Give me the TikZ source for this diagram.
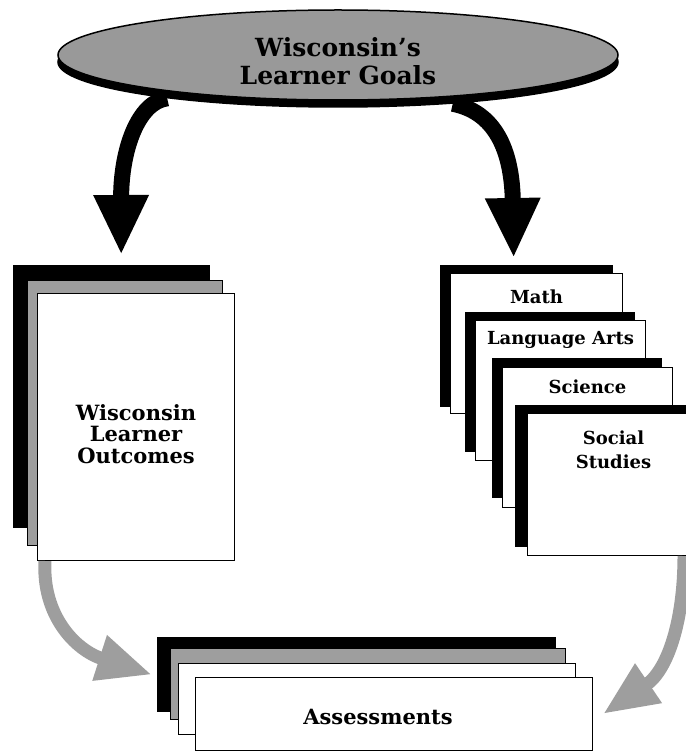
\documentclass[tikz,border=0pt]{standalone}
\usepackage{fontspec}
\setmainfont{DejaVu Serif}
\usetikzlibrary{positioning,shapes.geometric,arrows.meta}
\tikzset{
  goal/.style={draw, ellipse, line width=1.5pt, fill=black!40, minimum width=560pt, minimum height=90pt, inner sep=0pt},
  sheet/.style={draw, fill=white, line width=1pt, anchor=north west, inner sep=0pt},
  grain/.style={draw, fill=black!38, line width=0.8pt, anchor=north west, inner sep=0pt},
  blk/.style={fill=black, anchor=north west, inner sep=0pt},
  title/.style={font=\bfseries\fontsize{25}{28}\selectfont, align=center, inner sep=0pt},
  lbl/.style={font=\bfseries\fontsize{18}{24}\selectfont, align=center, inner sep=0pt},
  big/.style={line width=16pt, -{Triangle[width=51pt,length=60pt]}},
  flow/.style={line width=13pt, draw=black!38, -{Triangle[width=44pt,length=55pt]}}
}
\begin{document}
\begin{tikzpicture}[x=1pt,y=-1pt]
  \useasboundingbox (0,0) rectangle (685,751);
  % outcomes stack
  \node[blk, minimum width=197pt, minimum height=263pt] (lo3) at (13,265) {};
  \node[grain, minimum width=195pt, minimum height=265pt] (lo2) at (27,280) {};
  \node[sheet, minimum width=197pt, minimum height=267pt] (lo1) at (37,293) {};
  \node[lbl, font=\bfseries\fontsize{21}{21.5}\selectfont] (lot) at ([yshift=-7pt]lo1.center) {Wisconsin\\Learner\\Outcomes};
  % subject sheets
  \node[blk, minimum width=173pt, minimum height=142pt] (ms) at (440,265) {};
  \node[sheet, minimum width=172pt, minimum height=140pt] (m) at (450,273) {};
  \node[lbl, anchor=base] (mt) at ([yshift=-30pt]m.north) {Math};
  \node[blk, minimum width=170pt, minimum height=140pt] (las) at (465,312) {};
  \node[sheet, minimum width=170pt, minimum height=140pt] (la) at (475,320) {};
  \node[lbl, anchor=base] (lat) at ([yshift=-24pt]la.north) {Language Arts};
  \node[blk, minimum width=170pt, minimum height=140pt] (scs) at (492,358) {};
  \node[sheet, minimum width=170pt, minimum height=140pt] (sc) at (502,367) {};
  \node[lbl, anchor=base] (sct) at ([yshift=-26pt]sc.north) {Science};
  \node[blk, minimum width=172pt, minimum height=142pt] (sss) at (515,405) {};
  \node[sheet, minimum width=172pt, minimum height=142pt] (ss) at (527,413) {};
  \node[lbl, anchor=north] (sst) at ([yshift=-18pt]ss.north) {Social\\Studies};
  % assessment stack
  \node[blk, minimum width=399pt, minimum height=75pt] (a3) at (157,637) {};
  \node[grain, minimum width=395pt, minimum height=71pt] (a2) at (170,648) {};
  \node[sheet, minimum width=397pt, minimum height=71pt] (a1) at (178,663) {};
  \node[sheet, minimum width=397pt, minimum height=73pt] (a0) at (195,677) {};
  \node[lbl, font=\bfseries\fontsize{21}{24}\selectfont] (at) at ([xshift=-16pt,yshift=-3pt]a0.center) {Assessments};
  % goals
  \node[goal, draw=black, fill=black] (gshadow) at (338,62) {};
  \draw[big] (gshadow.192) .. controls (138,102) and (121,150) .. ([xshift=9.5pt,yshift=10pt]lo3.north);
  \draw[big] (gshadow.340) .. controls (495,112) and (512,150) .. ([xshift=-13pt,yshift=7pt]ms.north);
  \node[goal] (goals) at (338,55) {};
  \node[title] (gt) at ([yshift=-6pt]goals.center) {Wisconsin's\\Learner Goals};
  % feeding the assessments
  \draw[flow] ([xshift=8pt]lo1.south west) .. controls (42,615) and (75,650) .. ([xshift=-5pt]a3.west);
  \draw[flow] ([xshift=-16pt]ss.south east) .. controls (684,620) and (668,670) .. ([xshift=10pt]a0.east);
\end{tikzpicture}
\end{document}
